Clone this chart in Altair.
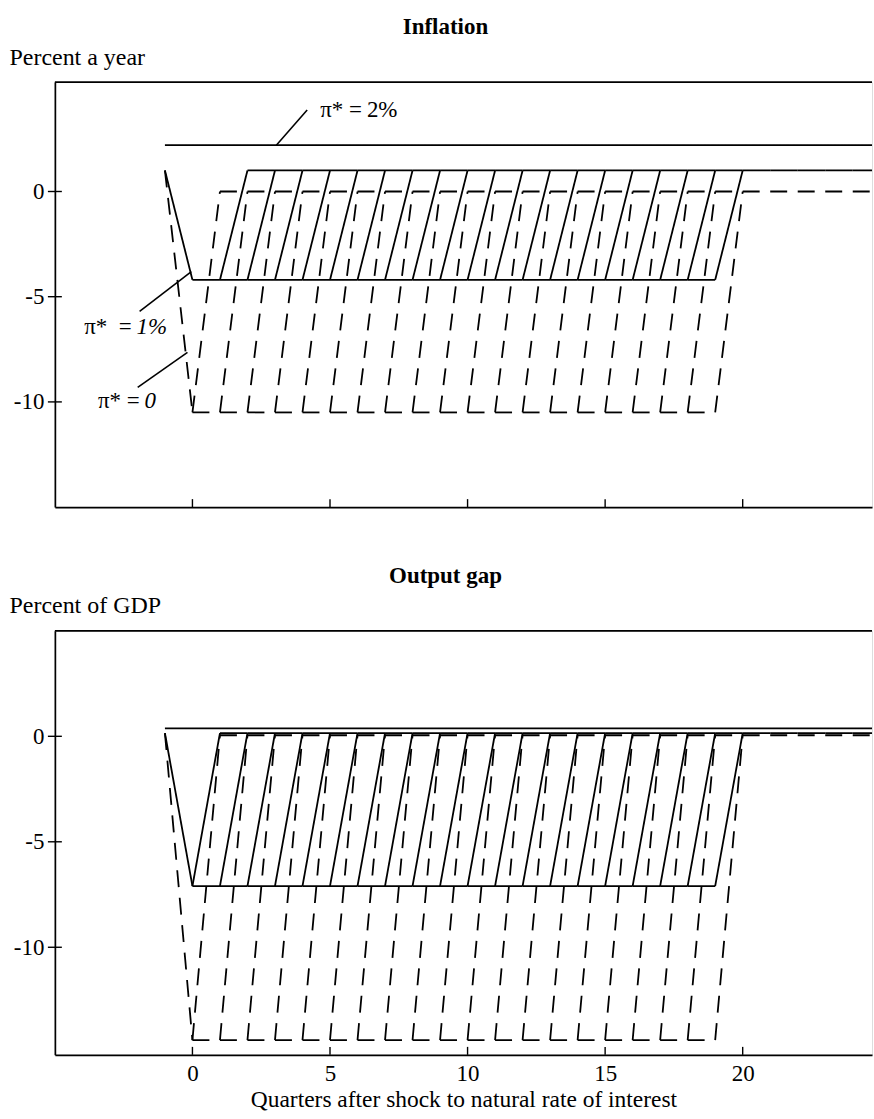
import altair as alt
import pandas as pd

# ---------------- data ----------------
panel_titles = ["Inflation", "Output gap"]
y_titles = ["Percent a year", "Percent of GDP"]
x_title = "Quarters after shock to natural rate of interest"

# level before the shock (quarter -1)
start_level = [1.0, 0.15]
# level while at the zero bound, pi* = 1% (solid) and pi* = 0 (dashed)
trough_1pct = [-4.2, -7.1]
trough_0pct = [-10.5, -14.4]
# level after lift-off
recovery_1pct = [1.0, 0.15]
recovery_0pct = [0.0, 0.05]
# pi* = 2% path (flat)
flat_2pct = [2.2, 0.38]
# quarters at which the economy leaves the bound (last quarter at trough)
exit_quarters_1pct = [
    [1, 2, 3, 4, 5, 6, 7, 8, 9, 10, 11, 12, 13, 14, 15, 16, 17, 18, 19],
    [0, 1, 2, 3, 4, 5, 6, 7, 8, 9, 10, 11, 12, 13, 14, 15, 16, 17, 18, 19],
]
exit_quarters_0pct = [
    [0, 1, 2, 3, 4, 5, 6, 7, 8, 9, 10, 11, 12, 13, 14, 15, 16, 17, 18, 19],
    [0, 1, 2, 3, 4, 5, 6, 7, 8, 9, 10, 11, 12, 13, 14, 15, 16, 17, 18, 19],
]
x_ticks = [0, 5, 10, 15, 20]
y_ticks = [0, -5, -10]
x_domain = [-5, 24.7]
y_domains = [[-15, 5.2], [-15.1, 5.0]]
last_quarter = 26

# annotations (inflation panel only): label split at the "=" sign,
# anchor position, leader from (x1,y1) to (x2,y2)
ann_prefix = ["π* =", "π*\u00a0\u00a0=", "π* ="]
ann_suffix = ["2%", "1%", "0"]
ann_suffix_style = ["normal", "italic", "italic"]
ann_x = [6.16, -2.21, -1.92]
ann_y = [3.87, -6.46, -9.97]
lead_x1 = [3.05, -1.92, -1.99]
lead_y1 = [2.2, -5.7, -9.31]
lead_x2 = [4.17, -0.04, -0.18]
lead_y2 = [3.87, -3.81, -7.65]

FONT = "Liberation Serif"
W = 819
HEIGHTS = [426, 425]


def path_vertices(start, trough, rec, k):
    v = [(-1, start), (0, trough)]
    v += [(q, trough) for q in range(1, k + 1)]
    v += [(k + 1, rec)]
    v += [(q, rec) for q in range(k + 2, last_quarter + 1)]
    return v


def segments(i):
    rows = []
    seen = set()
    sid = 0
    families = [
        ("solid", trough_1pct[i], recovery_1pct[i], exit_quarters_1pct[i]),
        ("dashed", trough_0pct[i], recovery_0pct[i], exit_quarters_0pct[i]),
    ]
    for style, trough, rec, ks in families:
        for k in ks:
            v = path_vertices(start_level[i], trough, rec, k)
            for a, b in zip(v[:-1], v[1:]):
                key = (style, a, b)
                if key in seen:
                    continue
                seen.add(key)
                rows.append({"style": style, "seg": sid, "x": a[0], "y": a[1]})
                rows.append({"style": style, "seg": sid, "x": b[0], "y": b[1]})
                sid += 1
    # pi* = 2% flat line
    rows.append({"style": "solid", "seg": sid, "x": -1, "y": flat_2pct[i]})
    rows.append({"style": "solid", "seg": sid, "x": last_quarter, "y": flat_2pct[i]})
    return pd.DataFrame(rows)


def panel(i):
    H = HEIGHTS[i]
    xs = alt.Scale(domain=x_domain, nice=False, zero=False)
    ys = alt.Scale(domain=y_domains[i], nice=False, zero=False)
    bottom = i == 1
    x_axis = alt.Axis(
        values=x_ticks,
        ticks=False,
        grid=False,
        labels=bottom,
        domainColor="black",
        domainWidth=1.7,
        labelFont=FONT,
        labelFontSize=23,
        labelColor="black",
        labelPadding=8,
        title=x_title if bottom else None,
        titleFont=FONT,
        titleFontSize=23.5,
        titleFontWeight="normal",
        titleColor="black",
        titlePadding=2,
    )
    y_axis = alt.Axis(
        values=y_ticks,
        ticks=False,
        grid=False,
        domainColor="black",
        domainWidth=1.7,
        labelFont=FONT,
        labelFontSize=23,
        labelColor="black",
        labelPadding=11,
        labelExpr="'' + datum.value",
        title=y_titles[i],
        titleFont=FONT,
        titleFontSize=24,
        titleFontWeight="normal",
        titleColor="black",
        titleAngle=0,
        titleAlign="left",
        titleBaseline="alphabetic",
        titleX=-46,
        titleY=-18,
    )
    lines = (
        alt.Chart(segments(i))
        .mark_line(color="black", strokeWidth=1.8, clip=True)
        .encode(
            x=alt.X("x:Q", scale=xs, axis=x_axis),
            y=alt.Y("y:Q", scale=ys, axis=y_axis),
            detail="seg:N",
            strokeDash=alt.StrokeDash(
                "style:N",
                scale=alt.Scale(domain=["solid", "dashed"], range=[[1, 0], [17, 10.6]]),
                legend=None,
            ),
        )
    )
    xt = (
        alt.Chart(pd.DataFrame({"x": x_ticks}))
        .mark_rule(color="black", strokeWidth=1.4)
        .encode(x="x:Q", y=alt.value(H - 8), y2=alt.value(H))
    )
    yt = (
        alt.Chart(pd.DataFrame({"y": y_ticks}))
        .mark_rule(color="black", strokeWidth=1.4)
        .encode(y="y:Q", x=alt.value(-7), x2=alt.value(7))
    )
    top = (
        alt.Chart(pd.DataFrame({"a": [0]}))
        .mark_rule(color="black", strokeWidth=1.7)
        .encode(x=alt.value(0), x2=alt.value(W), y=alt.value(0))
    )
    layers = [lines, xt, yt, top]
    if i == 0:
        ann = pd.DataFrame(
            {
                "prefix": ann_prefix,
                "suffix": ann_suffix,
                "style": ann_suffix_style,
                "x": ann_x,
                "y": ann_y,
                "x1": lead_x1,
                "y1": lead_y1,
                "x2": lead_x2,
                "y2": lead_y2,
            }
        )
        lead = (
            alt.Chart(ann)
            .mark_rule(color="black", strokeWidth=1.6)
            .encode(x="x1:Q", y="y1:Q", x2="x2:Q", y2="y2:Q")
        )
        pre = (
            alt.Chart(ann)
            .mark_text(font=FONT, fontSize=23, align="right", baseline="middle", color="black")
            .encode(x="x:Q", y="y:Q", text="prefix:N")
        )
        suf_up = (
            alt.Chart(ann)
            .transform_filter("datum.style == 'normal'")
            .mark_text(font=FONT, fontSize=23, align="left", baseline="middle", color="black", dx=5)
            .encode(x="x:Q", y="y:Q", text="suffix:N")
        )
        suf_it = (
            alt.Chart(ann)
            .transform_filter("datum.style == 'italic'")
            .mark_text(font=FONT, fontSize=23, fontStyle="italic", align="left",
                       baseline="middle", color="black", dx=5)
            .encode(x="x:Q", y="y:Q", text="suffix:N")
        )
        layers += [lead, pre, suf_up, suf_it]
    return alt.layer(*layers).properties(
        width=W,
        height=H,
        title=alt.TitleParams(
            panel_titles[i],
            font=FONT,
            fontSize=23,
            fontWeight="bold",
            color="black",
            anchor="middle",
            offset=6,
            dx=-18,
        ),
    )


chart = (
    alt.vconcat(panel(0), panel(1), spacing=55)
    .properties(padding={"left": 8, "top": 14, "right": 0, "bottom": 0})
    .configure_view(stroke=None)
    .configure(background="white")
)

chart.save("out.html", embed_options={"renderer": "svg", "actions": False})
